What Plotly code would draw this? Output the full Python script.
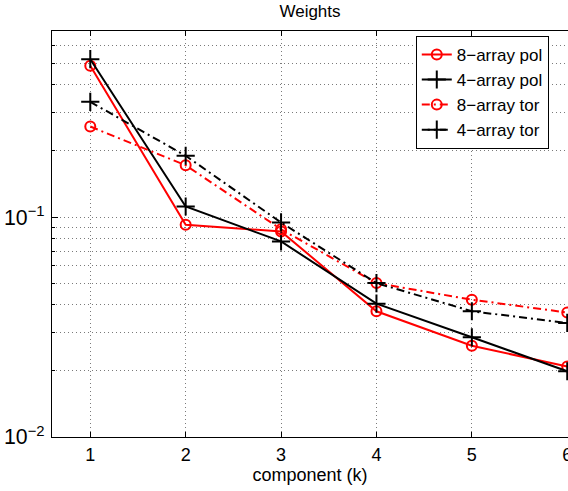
import plotly.graph_objects as go

k = [1, 2, 3, 4, 5, 6]
pol8 = [0.488, 0.0923, 0.086, 0.0373, 0.0260, 0.0209]
pol4 = [0.522, 0.1117, 0.0775, 0.0404, 0.0284, 0.0199]
tor8 = [0.258, 0.172, 0.088, 0.0501, 0.0421, 0.0368]
tor4 = [0.334, 0.190, 0.0945, 0.0501, 0.0373, 0.0330]

series_names = ["8\u2212array pol", "4\u2212array pol", "8\u2212array tor", "4\u2212array tor"]

FONT = "Liberation Sans, Arial, Helvetica, sans-serif"
DASHDOT = "8px,4px,2px,4px"

fig = go.Figure()

def add(y, name, color, symbol, dash):
    is_circle = symbol == "circle-open"
    fig.add_trace(go.Scatter(
        x=k, y=y, name=name, mode="lines+markers",
        line=dict(color=color, width=2, dash=dash),
        marker=dict(symbol=symbol, size=10 if is_circle else 13, color=color,
                    line=dict(color=color, width=2)),
    ))

add(pol8, series_names[0], "#ff0000", "circle-open", "solid")
add(pol4, series_names[1], "#000000", "cross-thin-open", "solid")
add(tor8, series_names[2], "#ff0000", "circle-open", DASHDOT)
add(tor4, series_names[3], "#000000", "cross-thin-open", DASHDOT)

grid_color = "#7a7a7a"

fig.update_layout(
    width=568, height=491,
    margin=dict(l=52, r=0, t=31, b=54),
    paper_bgcolor="white", plot_bgcolor="white",
    font=dict(family=FONT, color="black", size=18),
    title=dict(text="Weights", x=310 / 568, xanchor="center",
               y=(491 - 11) / 491, yanchor="middle",
               font=dict(size=17, family=FONT, color="black")),
    showlegend=True,
    legend=dict(x=0.705, y=0.988, xanchor="left", yanchor="top",
                bgcolor="white", bordercolor="black", borderwidth=1,
                font=dict(size=17, family=FONT, color="black"),
                tracegroupgap=0),
)

fig.update_xaxes(
    range=[0.5987, 6.008], tickvals=k, ticktext=[str(v) for v in k],
    ticks="inside", ticklen=5, tickwidth=1, tickcolor="black",
    showline=True, linecolor="black", linewidth=1, mirror="allticks",
    showgrid=True, gridcolor=grid_color, gridwidth=1, griddash="1px,3px",
    zeroline=False, ticklabelstandoff=1, ticklabeloverflow="allow",
    automargin=False,
    tickfont=dict(size=18, family=FONT, color="black"),
    title=dict(text="component (k)", standoff=0, font=dict(size=18, family=FONT, color="black")),
)

fig.update_yaxes(
    type="log", range=[-2, -0.154],
    dtick=1, exponentformat="power",
    ticks="inside", ticklen=6, tickwidth=1, tickcolor="black",
    showline=True, linecolor="black", linewidth=1, mirror=False,
    showgrid=True, gridcolor=grid_color, gridwidth=1, griddash="1px,3px",
    minor=dict(dtick="D1", ticks="inside", ticklen=3, tickcolor="black",
               showgrid=True, gridcolor=grid_color, gridwidth=1, griddash="1px,3px"),
    zeroline=False, ticklabelstandoff=3, automargin=False,
    tickfont=dict(size=17, family=FONT, color="black"),
)

fig.write_html("out.html", config={"displayModeBar": False},
               post_script="document.body.style.margin='0';document.body.style.overflow='hidden';")
